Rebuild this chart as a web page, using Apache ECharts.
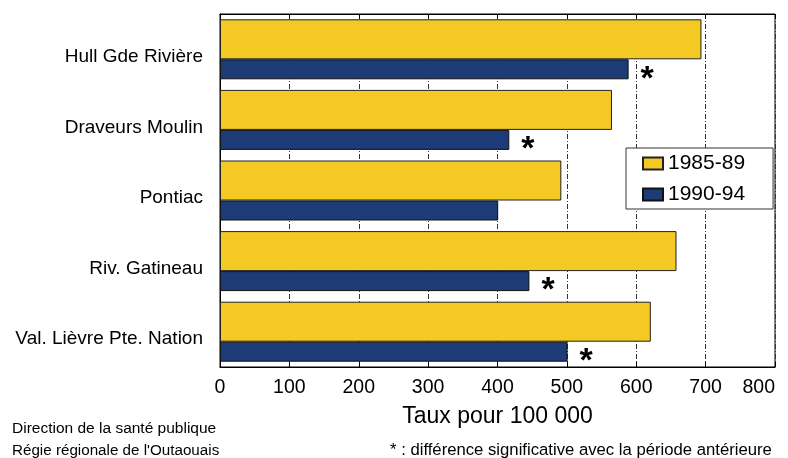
<!DOCTYPE html>
<html>
<head>
<meta charset="utf-8">
<script src="https://cdn.jsdelivr.net/npm/echarts@6/dist/echarts.min.js"></script>
<style>html,body{margin:0;padding:0;background:#fff;}#c{width:788px;height:458px;}</style>
</head>
<body>
<div id="c"></div>
<script>
var categories = ['Hull Gde Rivière', 'Draveurs Moulin', 'Pontiac', 'Riv. Gatineau', 'Val. Lièvre Pte. Nation'];
var seriesNames = ['1985-89', '1990-94'];
var values8589 = [694, 565, 492, 658, 621];
var values9094 = [589, 417, 401, 446, 501];
var significant = [true, true, false, true, true];
var xTicks = [0, 100, 200, 300, 400, 500, 600, 700, 800];

var FONT = '"Liberation Sans", Arial, sans-serif';
var chart = echarts.init(document.getElementById('c'), null, {renderer: 'canvas'});
var option = {
  animation: false,
  backgroundColor: '#ffffff',
  textStyle: {fontFamily: FONT, color: '#000'},
  grid: {left: 220, right: 13, top: 14, bottom: 91, show: true, borderColor: '#000', borderWidth: 1, backgroundColor: 'transparent', containLabel: false, outerBoundsMode: 'none'},
  legend: {
    orient: 'vertical', left: 626, top: 148,
    data: seriesNames,
    icon: 'rect',
    itemWidth: 20, itemHeight: 12, itemGap: 10,
    padding: [5, 28, 4, 16],
    borderColor: '#333', borderWidth: 1, backgroundColor: '#fff',
    textStyle: {fontFamily: FONT, fontSize: 21, color: '#000'}
  },
  xAxis: [{
    type: 'value', min: xTicks[0], max: xTicks[xTicks.length - 1], interval: 100,
    name: 'Taux pour 100 000', nameLocation: 'middle', nameGap: 38,
    nameTextStyle: {fontFamily: FONT, fontSize: 23, color: '#000'},
    axisLine: {show: true, lineStyle: {color: '#000', width: 1}},
    axisTick: {show: true, inside: true, length: 5, lineStyle: {color: '#000'}},
    axisLabel: {fontFamily: FONT, fontSize: 19.5, color: '#000', margin: 11, showMaxLabel: true, showMinLabel: true, alignMaxLabel: 'right'},
    splitLine: {show: true, lineStyle: {color: '#333', width: 1, type: [5, 2, 1, 2]}}
  }, {
    type: 'value', position: 'top', min: xTicks[0], max: xTicks[xTicks.length - 1], interval: 100,
    axisLine: {show: true, lineStyle: {color: '#000'}},
    axisTick: {show: true, inside: true, length: 5, lineStyle: {color: '#000'}},
    axisLabel: {show: false}, splitLine: {show: false}
  }],
  yAxis: {
    type: 'category', data: categories, inverse: true,
    axisLine: {show: true, lineStyle: {color: '#000'}},
    axisTick: {show: false},
    axisLabel: {fontFamily: FONT, fontSize: 19, color: '#000', margin: 17, verticalAlign: 'top', lineHeight: 15}
  },
  series: [{
    name: seriesNames[0], type: 'bar', data: values8589, barWidth: 40, barGap: '0%',
    itemStyle: {color: '#F4C924', borderColor: '#222', borderWidth: 1}
  }, {
    name: seriesNames[1], type: 'bar', data: values9094, barWidth: 20, barGap: '0%',
    itemStyle: {color: '#1C3B77', borderColor: '#111', borderWidth: 1},
    label: {
      show: true, position: 'right', distance: 12,
      formatter: function (p) { return significant[p.dataIndex] ? '*' : ''; },
      fontFamily: FONT, fontSize: 34, fontWeight: 'bold', color: '#000', offset: [0, 10]
    }
  }],
  graphic: [
    {type: 'text', left: 12, top: 421, style: {text: 'Direction de la santé publique', font: '15.5px ' + FONT, fill: '#000'}},
    {type: 'text', left: 12, top: 443, style: {text: "Régie régionale de l'Outaouais", font: '15.2px ' + FONT, fill: '#000'}},
    {type: 'text', left: 390, top: 442, style: {text: '* : différence significative avec la période antérieure', font: '16.7px ' + FONT, fill: '#000'}}
  ]
};
chart.setOption(option);
</script>
</body>
</html>
